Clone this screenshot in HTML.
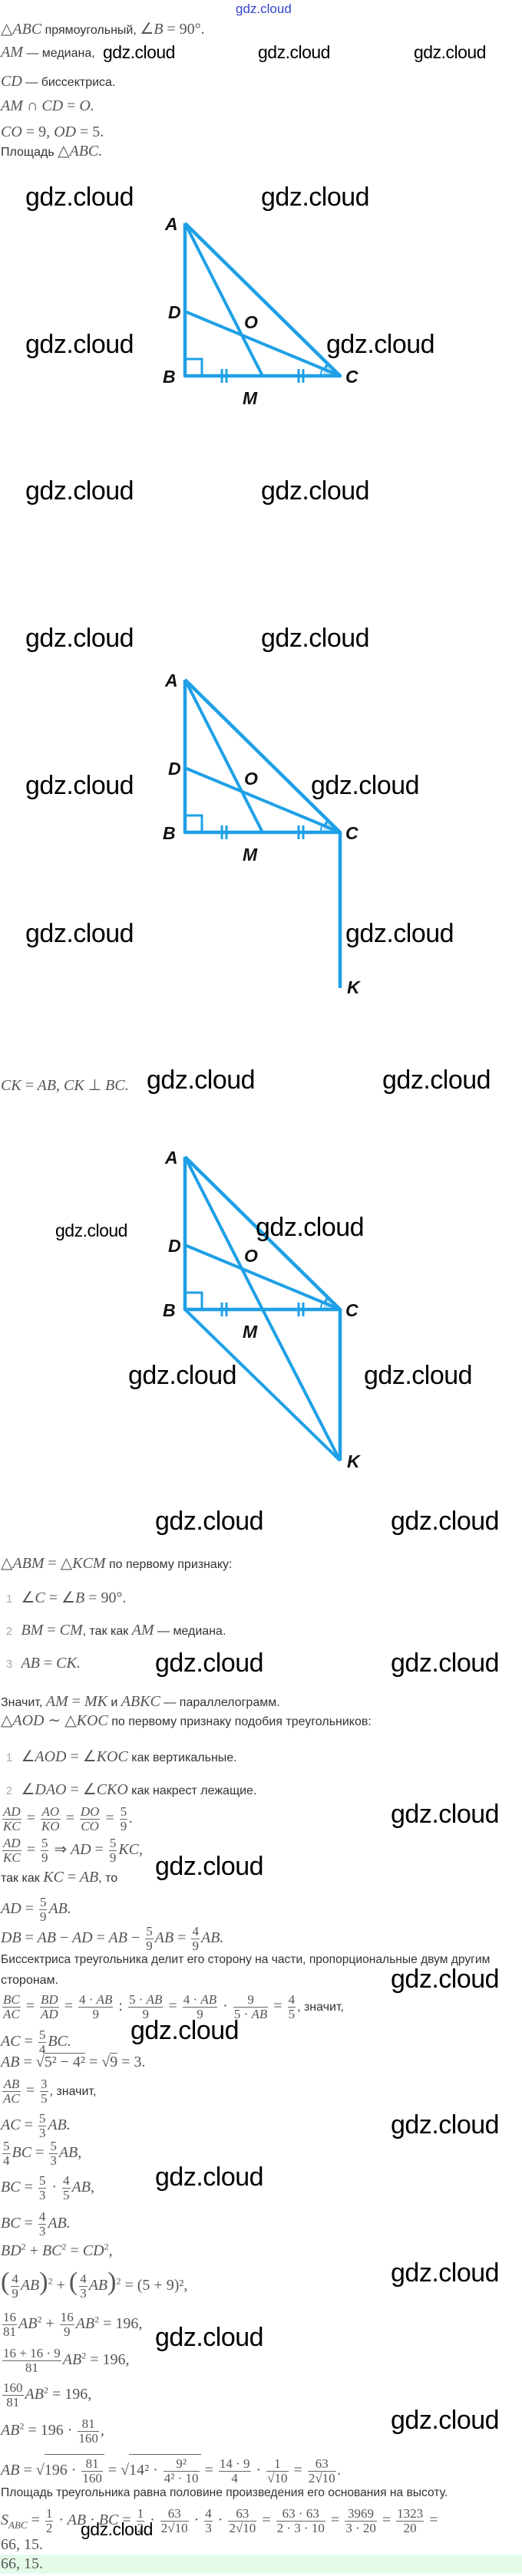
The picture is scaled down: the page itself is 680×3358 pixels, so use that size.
<!DOCTYPE html>
<html><head><meta charset="utf-8">
<style>
html,body{margin:0;padding:0;background:#fff}
body{width:680px;height:3355px;position:relative;overflow:hidden;font-family:"Liberation Sans",sans-serif;color:#333}
.w{position:absolute;font-family:"Liberation Sans",sans-serif;color:#000;font-size:34px;line-height:34px;white-space:nowrap;letter-spacing:-0.5px}
.ws{font-size:23px;line-height:23px}
.l{position:absolute;left:1px;height:28px;line-height:28px;white-space:nowrap;font-size:16px;color:#333}
.m{font-family:"Liberation Serif",serif;font-style:italic;color:#555;font-size:20px}
.r{font-style:normal}
.f{display:inline-block;vertical-align:middle;text-align:center;font-family:"Liberation Serif",serif;font-size:17px;line-height:18px;margin:0 2px;color:#555}
.f>span{display:block;padding:0 1px}
.f>span:first-child{border-bottom:1px solid #666}
.n{color:#aaa;font-size:15px;display:inline-block;width:22px;text-align:center}
svg{position:absolute;left:0;top:0}
</style></head><body>

<div style="position:absolute;left:307px;top:2px;font-size:17px;color:#3344cc;font-family:'Liberation Sans',sans-serif">gdz.cloud</div>

<svg width="680" height="3355" viewBox="0 0 680 3355">
<defs>
<g id="tri">
<path d="M443,490 L421,490 A22,22 0 0 1 427.3,474.6 Z" fill="#bfe3f7"/>
<path d="M422.7,481.6 A22,22 0 0 1 427.3,474.6" fill="none" stroke="#1ea0e6" stroke-width="3"/>
<path d="M418,490 A25,25 0 0 1 420,480" fill="none" stroke="#1ea0e6" stroke-width="2"/>
<polyline points="241,291 241,490 443,490 241,291" fill="none" stroke="#1ea0e6" stroke-width="4.5" stroke-linejoin="round"/>
<line x1="241" y1="291" x2="342" y2="490" stroke="#1ea0e6" stroke-width="4"/>
<line x1="241" y1="406" x2="443" y2="490" stroke="#1ea0e6" stroke-width="4"/>
<polyline points="241,468 263,468 263,490" fill="none" stroke="#1ea0e6" stroke-width="3"/>
<g stroke="#1ea0e6" stroke-width="3"><line x1="289" y1="481" x2="289" y2="499"/><line x1="295" y1="481" x2="295" y2="499"/><line x1="389" y1="481" x2="389" y2="499"/><line x1="395" y1="481" x2="395" y2="499"/></g>
<g font-family="Liberation Sans" font-weight="bold" font-style="italic" font-size="23" fill="#111">
<text x="215" y="300">A</text><text x="219" y="415">D</text><text x="318" y="428">O</text><text x="212" y="499">B</text><text x="450" y="499">C</text><text x="316" y="527">M</text>
</g>
</g>
</defs>
<use href="#tri"/>
<g transform="translate(0,595)">
<use href="#tri"/>
<line x1="443" y1="490" x2="443" y2="693" stroke="#1ea0e6" stroke-width="4.5"/>
<text x="452" y="700" font-family="Liberation Sans" font-weight="bold" font-style="italic" font-size="23" fill="#111">K</text>
</g>
<g transform="translate(0,1217)">
<use href="#tri"/>
<line x1="443" y1="490" x2="443" y2="687" stroke="#1ea0e6" stroke-width="4.5"/>
<line x1="241" y1="490" x2="443" y2="687" stroke="#1ea0e6" stroke-width="4"/>
<line x1="342" y1="490" x2="443" y2="687" stroke="#1ea0e6" stroke-width="4"/>
<text x="452" y="696" font-family="Liberation Sans" font-weight="bold" font-style="italic" font-size="23" fill="#111">K</text>
</g>
</svg>

<!-- watermarks -->
<div class="w ws" style="left:134px;top:57px">gdz.cloud</div>
<div class="w ws" style="left:336px;top:57px">gdz.cloud</div>
<div class="w ws" style="left:539px;top:57px">gdz.cloud</div>
<div class="w" style="left:33px;top:240px">gdz.cloud</div>
<div class="w" style="left:340px;top:240px">gdz.cloud</div>
<div class="w" style="left:33px;top:432px">gdz.cloud</div>
<div class="w" style="left:425px;top:432px">gdz.cloud</div>
<div class="w" style="left:33px;top:623px">gdz.cloud</div>
<div class="w" style="left:340px;top:623px">gdz.cloud</div>
<div class="w" style="left:33px;top:815px">gdz.cloud</div>
<div class="w" style="left:340px;top:815px">gdz.cloud</div>
<div class="w" style="left:33px;top:1007px">gdz.cloud</div>
<div class="w" style="left:405px;top:1007px">gdz.cloud</div>
<div class="w" style="left:33px;top:1200px">gdz.cloud</div>
<div class="w" style="left:450px;top:1200px">gdz.cloud</div>
<div class="w" style="left:191px;top:1391px">gdz.cloud</div>
<div class="w" style="left:498px;top:1391px">gdz.cloud</div>
<div class="w ws" style="left:72px;top:1593px">gdz.cloud</div>
<div class="w" style="left:333px;top:1583px">gdz.cloud</div>
<div class="w" style="left:167px;top:1776px">gdz.cloud</div>
<div class="w" style="left:474px;top:1776px">gdz.cloud</div>
<div class="w" style="left:202px;top:1966px">gdz.cloud</div>
<div class="w" style="left:509px;top:1966px">gdz.cloud</div>
<div class="w" style="left:202px;top:2151px">gdz.cloud</div>
<div class="w" style="left:509px;top:2151px">gdz.cloud</div>
<div class="w" style="left:509px;top:2348px">gdz.cloud</div>
<div class="w" style="left:202px;top:2416px">gdz.cloud</div>
<div class="w" style="left:509px;top:2563px">gdz.cloud</div>
<div class="w" style="left:170px;top:2630px">gdz.cloud</div>
<div class="w" style="left:509px;top:2753px">gdz.cloud</div>
<div class="w" style="left:202px;top:2821px">gdz.cloud</div>
<div class="w" style="left:509px;top:2946px">gdz.cloud</div>
<div class="w" style="left:202px;top:3030px">gdz.cloud</div>
<div class="w" style="left:509px;top:3138px">gdz.cloud</div>

<!-- text -->
<div class="l" style="top:24px"><span class="m"><span class="r">△</span>ABC</span> прямоугольный, <span class="m"><span class="r">∠</span>B <span class="r">= 90°.</span></span></div>
<div class="l" style="top:54px"><span class="m">AM</span> — медиана,</div>
<div class="l" style="top:92px"><span class="m">CD</span> — биссектриса.</div>
<div class="l" style="top:124px"><span class="m">AM <span class="r">∩</span> CD <span class="r">=</span> O.</span></div>
<div class="l" style="top:158px"><span class="m">CO <span class="r">= 9,</span> OD <span class="r">= 5.</span></span></div>
<div class="l" style="top:183px">Площадь <span class="m"><span class="r">△</span>ABC.</span></div>

<div class="l" style="top:1401px"><span class="m">CK <span class="r">=</span> AB, CK <span class="r">⊥</span> BC.</span></div>

<div class="l" style="top:2024px"><span class="m"><span class="r">△</span>ABM <span class="r">= △</span>KCM</span> по первому признаку:</div>
<div class="l" style="top:2069px"><span class="n">1</span> <span class="m"><span class="r">∠</span>C <span class="r">= ∠</span>B <span class="r">= 90°.</span></span></div>
<div class="l" style="top:2111px"><span class="n">2</span> <span class="m">BM <span class="r">=</span> CM</span>, так как <span class="m">AM</span> — медиана.</div>
<div class="l" style="top:2154px"><span class="n">3</span> <span class="m">AB <span class="r">=</span> CK.</span></div>
<div class="l" style="top:2204px">Значит, <span class="m">AM <span class="r">=</span> MK</span> и <span class="m">ABKC</span> — параллелограмм.</div>
<div class="l" style="top:2229px"><span class="m"><span class="r">△</span>AOD <span class="r">∼ △</span>KOC</span> по первому признаку подобия треугольников:</div>
<div class="l" style="top:2276px"><span class="n">1</span> <span class="m"><span class="r">∠</span>AOD <span class="r">= ∠</span>KOC</span> как вертикальные.</div>
<div class="l" style="top:2319px"><span class="n">2</span> <span class="m"><span class="r">∠</span>DAO <span class="r">= ∠</span>CKO</span> как накрест лежащие.</div>
<div class="l" style="top:2353px"><span class="m"><span class="f"><span>AD</span><span>KC</span></span> <span class="r">=</span> <span class="f"><span>AO</span><span>KO</span></span> <span class="r">=</span> <span class="f"><span>DO</span><span>CO</span></span> <span class="r">=</span> <span class="f r"><span>5</span><span>9</span></span>.</span></div>
<div class="l" style="top:2394px"><span class="m"><span class="f"><span>AD</span><span>KC</span></span> <span class="r">=</span> <span class="f r"><span>5</span><span>9</span></span> <span class="r">⇒</span> AD <span class="r">=</span> <span class="f r"><span>5</span><span>9</span></span>KC,</span></div>
<div class="l" style="top:2433px">так как <span class="m">KC <span class="r">=</span> AB</span>, то</div>
<div class="l" style="top:2471px"><span class="m">AD <span class="r">=</span> <span class="f r"><span>5</span><span>9</span></span>AB.</span></div>
<div class="l" style="top:2509px"><span class="m">DB <span class="r">=</span> AB <span class="r">−</span> AD <span class="r">=</span> AB <span class="r">−</span> <span class="f r"><span>5</span><span>9</span></span>AB <span class="r">=</span> <span class="f r"><span>4</span><span>9</span></span>AB.</span></div>
<div class="l" style="top:2541px;font-size:15.6px">Биссектриса треугольника делит его сторону на части, пропорциональные двум другим</div>
<div class="l" style="top:2568px">сторонам.</div>
<div class="l" style="top:2598px"><span class="m"><span class="f"><span>BC</span><span>AC</span></span> <span class="r">=</span> <span class="f"><span>BD</span><span>AD</span></span> <span class="r">=</span> <span class="f"><span><span class="r">4 · </span>AB</span><span class="r">9</span></span> <span class="r">:</span> <span class="f"><span><span class="r">5 · </span>AB</span><span class="r">9</span></span> <span class="r">=</span> <span class="f"><span><span class="r">4 · </span>AB</span><span class="r">9</span></span> <span class="r">·</span> <span class="f"><span class="r">9</span><span><span class="r">5 · </span>AB</span></span> <span class="r">=</span> <span class="f r"><span>4</span><span>5</span></span></span>, значит,</div>
<div class="l" style="top:2644px"><span class="m">AC <span class="r">=</span> <span class="f r"><span>5</span><span>4</span></span>BC.</span></div>
<div class="l" style="top:2674px"><span class="m">AB <span class="r">= √<span style="border-top:1px solid #666">5² − 4²</span> = √<span style="border-top:1px solid #666">9</span> = 3.</span></span></div>
<div class="l" style="top:2708px"><span class="m"><span class="f"><span>AB</span><span>AC</span></span> <span class="r">=</span> <span class="f r"><span>3</span><span>5</span></span></span>, значит,</div>
<div class="l" style="top:2753px"><span class="m">AC <span class="r">=</span> <span class="f r"><span>5</span><span>3</span></span>AB.</span></div>
<div class="l" style="top:2789px"><span class="m"><span class="f r"><span>5</span><span>4</span></span>BC <span class="r">=</span> <span class="f r"><span>5</span><span>3</span></span>AB,</span></div>
<div class="l" style="top:2834px"><span class="m">BC <span class="r">=</span> <span class="f r"><span>5</span><span>3</span></span> <span class="r">·</span> <span class="f r"><span>4</span><span>5</span></span>AB,</span></div>
<div class="l" style="top:2881px"><span class="m">BC <span class="r">=</span> <span class="f r"><span>4</span><span>3</span></span>AB.</span></div>
<div class="l" style="top:2914px"><span class="m">BD<sup class="r" style="font-size:12px">2</sup> <span class="r">+</span> BC<sup class="r" style="font-size:12px">2</sup> <span class="r">=</span> CD<sup class="r" style="font-size:12px">2</sup>,</span></div>
<div class="l" style="top:2959px"><span class="m"><span class="r" style="font-size:34px">(</span><span class="f r"><span>4</span><span>9</span></span>AB<span class="r" style="font-size:34px">)</span><sup class="r" style="font-size:12px">2</sup> <span class="r">+</span> <span class="r" style="font-size:34px">(</span><span class="f r"><span>4</span><span>3</span></span>AB<span class="r" style="font-size:34px">)</span><sup class="r" style="font-size:12px">2</sup> <span class="r">= (5 + 9)²,</span></span></div>
<div class="l" style="top:3009px"><span class="m"><span class="f r"><span>16</span><span>81</span></span>AB<sup class="r" style="font-size:12px">2</sup> <span class="r">+</span> <span class="f r"><span>16</span><span>9</span></span>AB<sup class="r" style="font-size:12px">2</sup> <span class="r">= 196,</span></span></div>
<div class="l" style="top:3056px"><span class="m"><span class="f r"><span>16 + 16 · 9</span><span>81</span></span>AB<sup class="r" style="font-size:12px">2</sup> <span class="r">= 196,</span></span></div>
<div class="l" style="top:3101px"><span class="m"><span class="f r"><span>160</span><span>81</span></span>AB<sup class="r" style="font-size:12px">2</sup> <span class="r">= 196,</span></span></div>
<div class="l" style="top:3148px"><span class="m">AB<sup class="r" style="font-size:12px">2</sup> <span class="r">= 196 ·</span> <span class="f r"><span>81</span><span>160</span></span>,</span></div>
<div class="l" style="top:3199px"><span class="m">AB <span class="r">= √</span><span style="border-top:1px solid #666;display:inline-block;line-height:40px"><span class="r">196 ·</span> <span class="f r"><span>81</span><span>160</span></span></span> <span class="r">= √</span><span style="border-top:1px solid #666;display:inline-block;line-height:40px"><span class="r">14² ·</span> <span class="f r"><span>9²</span><span>4² · 10</span></span></span> <span class="r">=</span> <span class="f r"><span>14 · 9</span><span>4</span></span> <span class="r">·</span> <span class="f r"><span>1</span><span>√10</span></span> <span class="r">=</span> <span class="f r"><span>63</span><span>2√10</span></span>.</span></div>
<div class="l" style="top:3236px;font-size:15.6px">Площадь треугольника равна половине произведения его основания на высоту.</div>
<div class="l" style="top:3268px"><span class="m">S<sub style="font-size:13px">ABC</sub> <span class="r">=</span> <span class="f r"><span>1</span><span>2</span></span> <span class="r">·</span> AB <span class="r">·</span> BC <span class="r">=</span> <span class="f r"><span>1</span><span>2</span></span> <span class="r">·</span> <span class="f r"><span>63</span><span>2√10</span></span> <span class="r">·</span> <span class="f r"><span>4</span><span>3</span></span> <span class="r">·</span> <span class="f r"><span>63</span><span>2√10</span></span> <span class="r">=</span> <span class="f r"><span>63 · 63</span><span>2 · 3 · 10</span></span> <span class="r">=</span> <span class="f r"><span>3969</span><span>3 · 20</span></span> <span class="r">=</span> <span class="f r"><span>1323</span><span>20</span></span> <span class="r">=</span></span></div>
<div class="w ws" style="left:105px;top:3286px">gdz.cloud</div>
<div class="l" style="top:3303px"><span class="m r">66, 15.</span></div>
<div style="position:absolute;left:0;top:3330px;width:680px;height:25px;background:#e5fbe9"></div>
<div class="l" style="top:3328px"><span class="m r">66, 15.</span></div>
</body></html>
